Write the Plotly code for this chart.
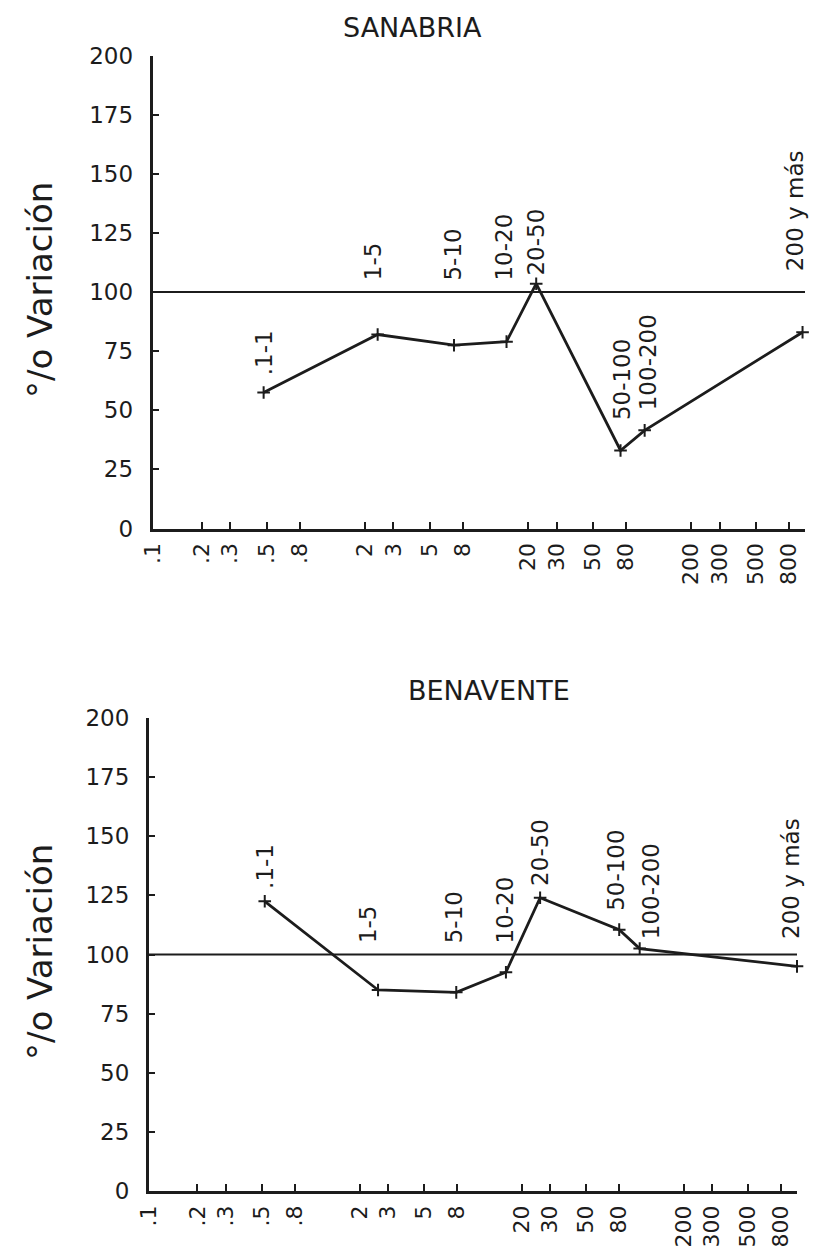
import math
import plotly.graph_objects as go

# Size classes (ha) and their labels
clases = [".1-1", "1-5", "5-10", "10-20", "20-50", "50-100", "100-200", "200 y más"]

# Sanabria: class position on the size axis and % variation
x_sanabria = [0.48, 2.4, 7.05, 14.8, 22.5, 74, 104, 966]
v_sanabria = [57.5, 82, 77.5, 79, 103.5, 33, 41.5, 83]

# Benavente: class position on the size axis and % variation
x_benavente = [0.52, 2.6, 7.9, 16, 26, 80, 107, 1000]
v_benavente = [122.5, 85, 84, 92.5, 124, 110.5, 102.5, 95]

# Axis ticks
x_tickvals = [0.1, 0.2, 0.3, 0.5, 0.8, 2, 3, 5, 8, 20, 30, 50, 80, 200, 300, 500, 800]
x_ticktext = [".1", ".2", ".3", ".5", ".8", "2", "3", "5", "8", "20", "30", "50", "80",
              "200", "300", "500", "800"]
y_tickvals = [0, 25, 50, 75, 100, 125, 150, 175, 200]

# Placement of the rotated class labels (base level in % and horizontal nudge in px)
label_y_sanabria = [64, 104, 104, 104, 106, 45, 49, 108]
label_dx_sanabria = [0, -5, -1, -2, 0, 1, 3, -8]
label_y_benavente = [127, 104, 104, 104, 128, 117.5, 105.5, 105.5]
label_dx_benavente = [0, -10, -2, -1, 0, -4, 12, -6]

W, H = 815, 1253
INK = "#1c1c1c"
FONT = "DejaVu Sans"

fig = go.Figure()

panels = [
    dict(name="SANABRIA", x=x_sanabria, v=v_sanabria, ly=label_y_sanabria, ldx=label_dx_sanabria,
         xa="x", ya="y", xdom=(152.5, 805), ydom=(528.5, 55.5), title_xy=(412, 28), ytitle_y=290),
    dict(name="BENAVENTE", x=x_benavente, v=v_benavente, ly=label_y_benavente, ldx=label_dx_benavente,
         xa="x2", ya="y2", xdom=(148.7, 797), ydom=(1191, 718), title_xy=(489, 690), ytitle_y=952),
]

annotations = []
shapes = []
for i, p in enumerate(panels):
    fig.add_trace(go.Scatter(
        x=p["x"], y=p["v"], xaxis=p["xa"], yaxis=p["ya"],
        mode="lines+markers",
        line=dict(color=INK, width=2.8),
        marker=dict(symbol="cross-thin", size=9, line=dict(color=INK, width=2)),
        cliponaxis=False, showlegend=False, hoverinfo="skip",
    ))
    # reference level 100 %
    shapes.append(dict(type="line", xref=f"{p['xa']} domain", yref=p["ya"],
                       x0=0, x1=1, y0=100, y1=100,
                       line=dict(color=INK, width=2)))
    # class labels, rotated
    for lab, xv, ly, dx in zip(clases, p["x"], p["ly"], p["ldx"]):
        annotations.append(dict(
            x=math.log10(xv), y=ly, xref=p["xa"], yref=p["ya"],
            text=lab, showarrow=False, textangle=-90,
            xanchor="center", yanchor="bottom", xshift=dx,
            font=dict(family=FONT, size=23, color=INK),
        ))
    # panel title
    tx, ty = p["title_xy"]
    annotations.append(dict(
        x=tx / W, y=1 - ty / H, xref="paper", yref="paper",
        text=p["name"], showarrow=False, xanchor="center", yanchor="middle",
        font=dict(family=FONT, size=27, color=INK),
    ))
    # y axis title
    annotations.append(dict(
        x=40 / W, y=1 - p["ytitle_y"] / H, xref="paper", yref="paper",
        text="°/o Variación", showarrow=False, textangle=-90,
        xanchor="center", yanchor="middle",
        font=dict(family=FONT, size=34, color=INK),
    ))

axis_common = dict(showgrid=False, zeroline=False, showline=True, automargin=False,
                   linecolor=INK, linewidth=2.5, ticks="inside",
                   tickcolor=INK, tickwidth=2, ticklen=7,
                   tickfont=dict(family=FONT, size=23, color=INK))

layout_axes = {}
for i, p in enumerate(panels):
    sx = "" if i == 0 else "2"
    x0, x1 = p["xdom"]
    yb, yt = p["ydom"]
    layout_axes[f"xaxis{sx}"] = dict(
        axis_common, type="log", range=[-1, 3],
        domain=[x0 / W, x1 / W], anchor=p["ya"],
        tickvals=x_tickvals, ticktext=x_ticktext, tickangle=-90,
        ticklabelstandoff=3, tickfont=dict(family=FONT, size=22, color=INK),
    )
    layout_axes[f"yaxis{sx}"] = dict(
        axis_common, range=[0, 200],
        domain=[1 - yb / H, 1 - yt / H], anchor=p["xa"],
        tickvals=y_tickvals, ticklabelstandoff=12,
    )

fig.update_layout(
    width=W, height=H,
    margin=dict(l=0, r=0, t=0, b=0),
    paper_bgcolor="white", plot_bgcolor="white",
    annotations=annotations, shapes=shapes,
    **layout_axes,
)

fig.write_html("out.html")
